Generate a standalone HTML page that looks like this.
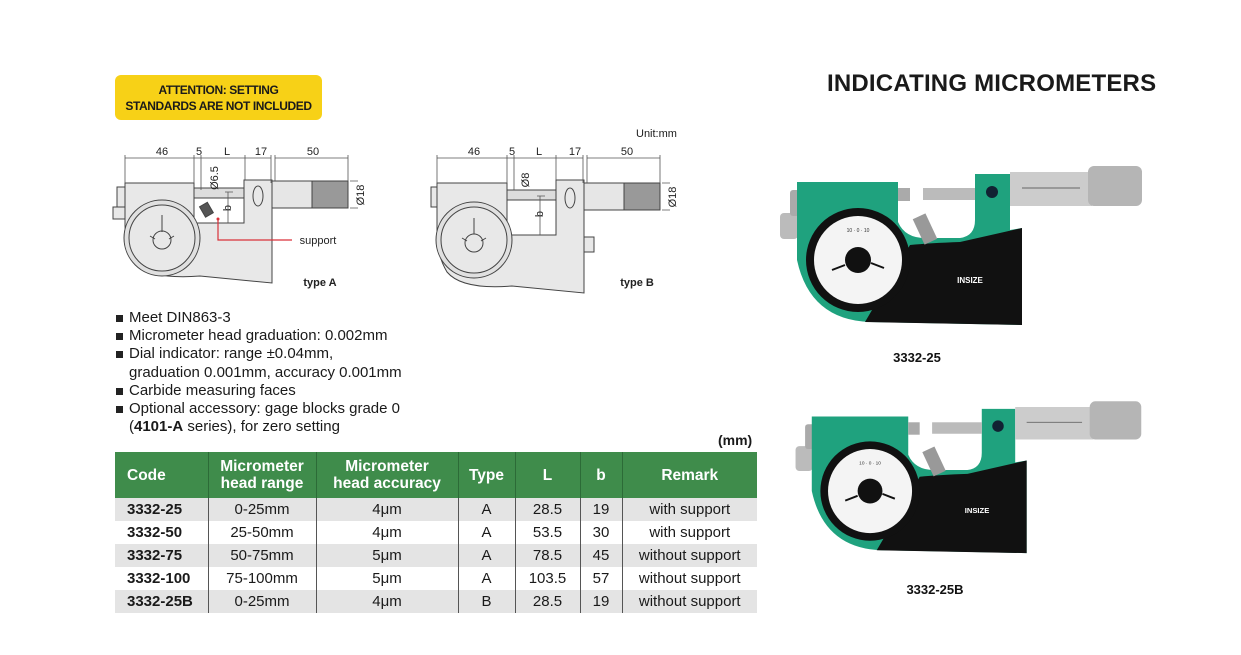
<!DOCTYPE html>
<html><head><meta charset="utf-8"><style>
body{margin:0;width:1241px;height:655px;background:#fff;position:relative;overflow:hidden;font-family:"Liberation Sans",Arial,sans-serif;color:#1a1a1a}
.abs{position:absolute}
.warn{left:115px;top:75px;width:207px;height:45px;background:#f7d117;border-radius:6px;font-weight:bold;font-size:12px;text-align:center;line-height:16px;padding-top:7px;box-sizing:border-box;letter-spacing:-0.4px}
.title{left:827px;top:70px;font-weight:bold;font-size:24px;letter-spacing:0.2px}
ul{position:absolute;left:115px;top:309px;margin:0;padding:0;list-style:none;font-size:15px;line-height:18.2px}
li{padding-left:14px;position:relative}
li.b:before{content:"";position:absolute;left:1px;top:6px;width:7px;height:7px;background:#222}
table{position:absolute;left:115px;top:452px;border-collapse:collapse;font-size:15px;table-layout:fixed;width:642px}
th{background:#3f8c4b;color:#fff;font-weight:bold;font-size:15.5px;line-height:17px;height:46px;padding:0;border-left:1px solid #2c6b37;overflow:hidden;white-space:nowrap}
td{height:23px;padding:0;text-align:center;border-left:1px solid #555;white-space:nowrap}
tr td:first-child,tr th:first-child{border-left:none}
td:first-child{font-weight:bold;text-align:left;padding-left:12px}
tr.g td{background:#e4e4e4}
.lbl{font-size:11px}
</style></head><body>
<div class="abs warn">ATTENTION: SETTING<br>STANDARDS ARE NOT INCLUDED</div>
<div class="abs title">INDICATING MICROMETERS</div>
<div class="abs lbl" style="left:636px;top:128px">Unit:mm</div>

<svg class="abs" style="left:0;top:0" width="1241" height="655" font-family="Liberation Sans,Arial,sans-serif">
<!-- Type A -->
<g stroke="#444" stroke-width="1" fill="#e8e8e8">
 <rect x="117" y="187" width="8" height="20"/><rect x="113" y="207" width="12" height="12"/>
 <path d="M125,183 H194 V223 H244 V180 H272 V283 L200,276 Q150,280 135,262 Q125,245 125,225 Z"/>
 <rect x="194" y="188" width="50" height="10" fill="#ddd"/>
 <circle cx="162" cy="238" r="38" fill="#e0e0e0"/><circle cx="162" cy="238" r="33" fill="#e8e8e8"/>
 <circle cx="162" cy="240" r="9" fill="#e8e8e8"/>
 <rect x="272" y="181" width="40" height="27" fill="#e6e6e6"/>
 <rect x="312" y="181" width="36" height="27" fill="#999"/>
 <ellipse cx="258" cy="196" rx="5" ry="10" fill="#e8e8e8"/>
 <rect x="202" y="204" width="9" height="12" fill="#555" transform="rotate(-30 206 210)"/>
</g>
<path d="M162,215 V232 M150,236 L155,239 M174,236 L169,239" stroke="#444" fill="none"/>
<path d="M218,219 V240 H292" stroke="#d9313a" stroke-width="1.2" fill="none"/>
<circle cx="218" cy="219" r="1.5" fill="#d9313a"/>
<g stroke="#555" stroke-width="0.8" fill="none">
 <path d="M125,158 H271 M275,158 H348 M125,155 V183 M194,155 V183 M201,155 V190 M245,155 V180 M271,155 V183 M275,155 V181 M348,155 V181 M350,181 H358 M350,208 H358 M228,192 V223 M225,192 H233"/>
</g>
<g font-size="11" fill="#222" text-anchor="middle">
 <text x="162" y="155">46</text><text x="199" y="155">5</text><text x="227" y="155">L</text><text x="261" y="155">17</text><text x="313" y="155">50</text>
 <text transform="translate(218,178) rotate(-90)">Ø6.5</text>
 <text transform="translate(364,195) rotate(-90)">Ø18</text>
 <text transform="translate(231,208) rotate(-90)">b</text>
 <text x="318" y="244">support</text>
 <text x="320" y="286" font-weight="bold">type A</text>
</g>
<!-- Type B -->
<g stroke="#444" stroke-width="1" fill="#e8e8e8">
 <rect x="431" y="187" width="8" height="20"/>
 <path d="M437,183 H507 V235 H556 V180 H584 V293 L512,286 Q462,290 447,272 Q437,255 437,235 Z"/>
 <rect x="584" y="237" width="10" height="15"/>
 <rect x="507" y="190" width="49" height="10" fill="#ddd"/>
 <circle cx="474" cy="240" r="38" fill="#e0e0e0"/><circle cx="474" cy="240" r="33" fill="#e8e8e8"/>
 <circle cx="474" cy="243" r="9" fill="#e8e8e8"/>
 <rect x="584" y="183" width="40" height="27" fill="#e6e6e6"/>
 <rect x="624" y="183" width="36" height="27" fill="#999"/>
 <ellipse cx="570" cy="198" rx="5" ry="10" fill="#e8e8e8"/>
</g>
<path d="M474,218 V234 M462,238 L467,241 M486,238 L481,241" stroke="#444" fill="none"/>
<g stroke="#555" stroke-width="0.8" fill="none">
 <path d="M437,158 H583 M587,158 H660 M437,155 V183 M507,155 V183 M514,155 V190 M556,155 V180 M583,155 V183 M587,155 V183 M660,155 V183 M662,183 H670 M662,210 H670 M540,196 V235 M537,196 H545"/>
</g>
<g font-size="11" fill="#222" text-anchor="middle">
 <text x="474" y="155">46</text><text x="512" y="155">5</text><text x="539" y="155">L</text><text x="575" y="155">17</text><text x="627" y="155">50</text>
 <text transform="translate(529,180) rotate(-90)">Ø8</text>
 <text transform="translate(676,197) rotate(-90)">Ø18</text>
 <text transform="translate(543,214) rotate(-90)">b</text>
 <text x="637" y="286" font-weight="bold">type B</text>
</g>

<!-- Photos -->
<defs>
<g id="mic">
 <rect x="10" y="63" width="18" height="26" rx="4" fill="#bbb"/>
 <rect x="20" y="40" width="12" height="26" rx="3" fill="#aaa"/>
 <path d="M27,32 H128 V72 Q135,88 155,88 H190 Q205,86 205,70 V24 H240 V80 L252,78 V175 L100,172 Q40,170 27,110 Z" fill="#1fa27e"/>
 <path d="M140,95 Q160,93 190,92 L252,78 V175 L95,172 Z" fill="#111"/>
 <rect x="128" y="38" width="12" height="13" fill="#aaa"/>
 <rect x="153" y="38" width="52" height="12" fill="#bbb"/>
 <rect x="148" y="65" width="14" height="28" fill="#999" transform="rotate(-25 155 79)"/>
 <circle cx="88" cy="110" r="52" fill="#111"/>
 <circle cx="88" cy="110" r="44" fill="#f4f4f4"/>
 <circle cx="88" cy="110" r="13" fill="#111"/>
 <path d="M75,115 L62,120 M101,113 L114,118" stroke="#111" stroke-width="2"/>
 <text x="88" y="82" font-size="5" text-anchor="middle" fill="#333">10 · 0 · 10</text>
 <rect x="240" y="22" width="82" height="34" fill="#ccc"/>
 <rect x="318" y="16" width="54" height="40" rx="6" fill="#b5b5b5"/>
 <path d="M252,38 H310" stroke="#666"/>
 <circle cx="222" cy="42" r="6" fill="#123"/>
 <text x="200" y="133" font-size="8" font-weight="bold" fill="#fff" text-anchor="middle">INSIZE</text>
</g>
</defs>
<use href="#mic" transform="translate(770,150)"/>
<use href="#mic" transform="translate(786,386) scale(0.955)"/>
<text x="917" y="362" font-size="13" font-weight="bold" text-anchor="middle" fill="#111">3332-25</text>
<text x="935" y="594" font-size="13" font-weight="bold" text-anchor="middle" fill="#111">3332-25B</text>
</svg>

<ul>
<li class="b">Meet DIN863-3</li>
<li class="b">Micrometer head graduation: 0.002mm</li>
<li class="b">Dial indicator: range ±0.04mm,</li>
<li>graduation 0.001mm, accuracy 0.001mm</li>
<li class="b">Carbide measuring faces</li>
<li class="b">Optional accessory: gage blocks grade 0</li>
<li>(<b>4101-A</b> series), for zero setting</li>
</ul>
<div class="abs" style="left:718px;top:432px;font-weight:bold;font-size:14px">(mm)</div>
<table>
<colgroup><col style="width:93px"><col style="width:108px"><col style="width:142px"><col style="width:57px"><col style="width:65px"><col style="width:42px"><col style="width:135px"></colgroup>
<tr><th style="text-align:left;padding-left:12px">Code</th><th>Micrometer<br>head range</th><th>Micrometer<br>head accuracy</th><th>Type</th><th>L</th><th>b</th><th>Remark</th></tr>
<tr class="g"><td>3332-25</td><td>0-25mm</td><td>4μm</td><td>A</td><td>28.5</td><td>19</td><td>with support</td></tr>
<tr><td>3332-50</td><td>25-50mm</td><td>4μm</td><td>A</td><td>53.5</td><td>30</td><td>with support</td></tr>
<tr class="g"><td>3332-75</td><td>50-75mm</td><td>5μm</td><td>A</td><td>78.5</td><td>45</td><td>without support</td></tr>
<tr><td>3332-100</td><td>75-100mm</td><td>5μm</td><td>A</td><td>103.5</td><td>57</td><td>without support</td></tr>
<tr class="g"><td>3332-25B</td><td>0-25mm</td><td>4μm</td><td>B</td><td>28.5</td><td>19</td><td>without support</td></tr>
</table>
</body></html>
